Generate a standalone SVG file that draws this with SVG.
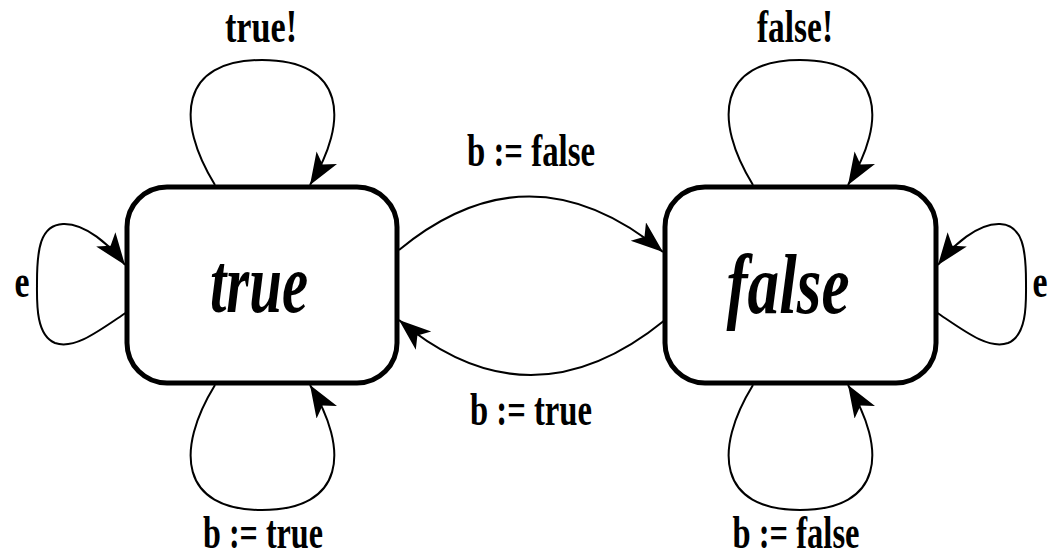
<svg xmlns="http://www.w3.org/2000/svg" width="1061" height="557" viewBox="0 0 1061 557">
<style>
.node{fill:#fff;stroke:#000;stroke-width:5}
.edge{fill:none;stroke:#000;stroke-width:2}
.lbl{font-family:"Liberation Serif",serif;font-weight:bold;font-size:46px;fill:#000;text-anchor:middle}
.big{font-family:"Liberation Serif",serif;font-weight:bold;font-style:italic;font-size:84px;fill:#000;text-anchor:middle}
</style>
<defs>
<marker id="arr" markerUnits="userSpaceOnUse" markerWidth="34" markerHeight="26" refX="32" refY="12" orient="auto" viewBox="0 0 34 26">
<path d="M0,0 L32,12 L0,24 L8,12 Z" fill="#000"/>
</marker>
</defs>
<rect width="1061" height="557" fill="#fff"/>
<g id="edges">
<path class="edge" marker-end="url(#arr)" d="M215,185 C175,120 180,60 262,60 C345,60 350,120 310,185"/>
<path class="edge" marker-end="url(#arr)" d="M215,385 C175,450 180,510 262,510 C345,510 350,450 310,385"/>
<path class="edge" marker-end="url(#arr)" d="M127,312 C100,330 75,350 55,343 C35,335 37,300 37,282 C37,250 40,225 63,224 C85,223 110,245 125,265"/>
<path class="edge" marker-end="url(#arr)" d="M753,185 C713,120 718,60 800,60 C883,60 888,120 848,185"/>
<path class="edge" marker-end="url(#arr)" d="M753,385 C713,450 718,510 800,510 C883,510 888,450 848,385"/>
<path class="edge" marker-end="url(#arr)" d="M936,312 C963,330 988,350 1008,343 C1028,335 1026,300 1026,282 C1026,250 1023,225 1000,224 C978,223 953,245 938,265"/>
<path class="edge" marker-end="url(#arr)" d="M399,250 Q530,142 663,252"/>
<path class="edge" marker-end="url(#arr)" d="M665,320 Q530,430 399,320"/>
</g>
<g id="node-true">
<rect class="node" x="127" y="187" width="270" height="196" rx="40" ry="40"/>
<text class="big" x="259" y="312" textLength="98" lengthAdjust="spacingAndGlyphs">true</text>
</g>
<g id="node-false">
<rect class="node" x="665" y="187" width="271" height="196" rx="40" ry="40"/>
<text class="big" x="788" y="313" textLength="123" lengthAdjust="spacingAndGlyphs">false</text>
</g>
<g id="labels">
<text class="lbl" x="261" y="42" textLength="72" lengthAdjust="spacingAndGlyphs">true!</text>
<text class="lbl" x="795" y="42" textLength="76" lengthAdjust="spacingAndGlyphs">false!</text>
<text class="lbl" x="531" y="166" textLength="128" lengthAdjust="spacingAndGlyphs">b := false</text>
<text class="lbl" x="531" y="425" textLength="122" lengthAdjust="spacingAndGlyphs">b := true</text>
<text class="lbl" x="263" y="548" textLength="120" lengthAdjust="spacingAndGlyphs">b := true</text>
<text class="lbl" x="796" y="548" textLength="127" lengthAdjust="spacingAndGlyphs">b := false</text>
<text class="lbl" x="22" y="297" textLength="15" lengthAdjust="spacingAndGlyphs">e</text>
<text class="lbl" x="1040" y="297" textLength="15" lengthAdjust="spacingAndGlyphs">e</text>
</g>
</svg>
